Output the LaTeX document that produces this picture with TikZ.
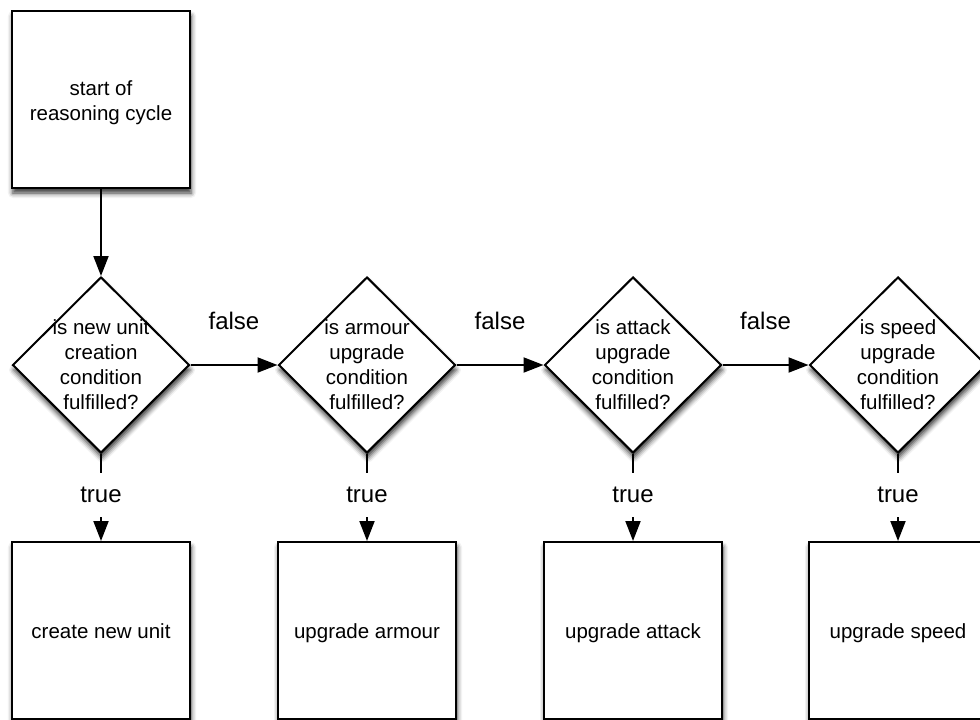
\documentclass[tikz,border=0pt]{standalone}
\usepackage{fontspec}
\setmainfont{Liberation Sans}
\usetikzlibrary{shapes.geometric,arrows.meta,shadows.blur}
\begin{document}
\begin{tikzpicture}[x=1pt,y=-1pt,
  shadowed/.style={blur shadow={shadow xshift=1pt,shadow yshift=-5pt,shadow blur radius=5pt,shadow opacity=80}},
  txt/.style={align=center,font=\fontsize{20.5}{25}\selectfont},
  stepbox/.style={draw,line width=2pt,fill=white,minimum width=178pt,minimum height=177pt,inner sep=0pt,txt,shadowed},
  action/.style={stepbox,text height=19pt,text depth=4pt},
  decision/.style={diamond,draw,line width=2pt,fill=white,minimum width=177pt,minimum height=176pt,inner sep=0pt,shadowed},
  branch/.style={font=\fontsize{24}{28}\selectfont},
  flow/.style={line width=2pt,-{Triangle[length=20pt,width=15pt]}},
  falselbl/.style={branch,midway,anchor=base,yshift=36pt},
  truelbl/.style={branch,pos=0.562,anchor=base,fill=white,inner xsep=2pt,inner ysep=14pt},
]
\useasboundingbox (0,0) rectangle (980,720);
\clip (0,0) rectangle (980,720);

% start of the cycle
\node[stepbox] (start) at (101,99.5) {\raisebox{-9pt}[0pt][0pt]{\begin{tabular}{@{}c@{}}start of\\reasoning cycle\end{tabular}}};

% decisions
\node[decision] (d1) at (101,365) {};
\node[decision] (d2) at (367,365) {};
\node[decision] (d3) at (633,365) {};
\node[decision] (d4) at (898,365) {};
\node[txt] (q1) at (d1.center) {is new unit\\creation\\condition\\fulfilled?};
\node[txt] (q2) at (d2.center) {is armour\\upgrade\\condition\\fulfilled?};
\node[txt] (q3) at (d3.center) {is attack\\upgrade\\condition\\fulfilled?};
\node[txt] (q4) at (d4.center) {is speed\\upgrade\\condition\\fulfilled?};

% actions
\node[action] (a1) at (101,630.5) {create new unit};
\node[action] (a2) at (367,630.5) {upgrade armour};
\node[action] (a3) at (633,630.5) {upgrade attack};
\node[action] (a4) at (898,630.5) {upgrade speed};

% connectors
\draw[flow] (start.south) -- (d1.north);
\draw[flow] (d1.east) -- node[falselbl] {false} (d2.west);
\draw[flow] (d2.east) -- node[falselbl] {false} (d3.west);
\draw[flow] (d3.east) -- node[falselbl] {false} (d4.west);
\draw[flow] (d1.south) -- node[truelbl] {true} (a1.north);
\draw[flow] (d2.south) -- node[truelbl] {true} (a2.north);
\draw[flow] (d3.south) -- node[truelbl] {true} (a3.north);
\draw[flow] (d4.south) -- node[truelbl] {true} (a4.north);
\end{tikzpicture}
\end{document}
